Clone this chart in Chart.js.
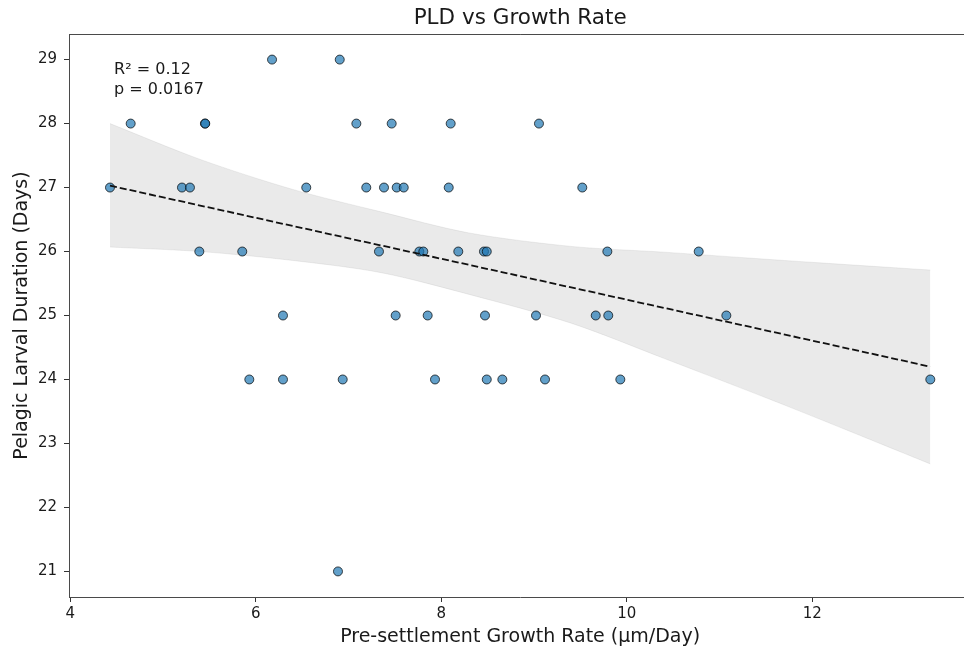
<!DOCTYPE html>
<html>
<head>
<meta charset="utf-8">
<script src="https://cdn.jsdelivr.net/npm/chart.js@4/dist/chart.umd.min.js"></script>
<style>
  html, body { margin: 0; padding: 0; background: #fff; overflow: hidden; }
  #wrap { width: 980px; height: 653px; }
</style>
</head>
<body>
<div id="wrap"><canvas id="c" width="980" height="653"></canvas></div>
<script>
// Pre-settlement growth rate (µm/day) and pelagic larval duration (days)
const growthRate = [
  6.175, 6.905,
  4.651, 5.452, 5.455, 7.084, 7.465, 8.101, 9.053,
  4.428, 5.204, 5.290, 6.544, 7.191, 7.382, 7.519, 7.595, 8.080, 9.520,
  5.391, 5.854, 7.328, 7.763, 7.806, 8.183, 8.460, 8.490, 9.790, 10.775,
  6.293, 7.508, 7.853, 8.471, 9.021, 9.665, 9.800, 11.073,
  5.930, 6.293, 6.937, 7.932, 8.490, 8.658, 9.118, 9.930, 13.272,
  6.886
];
const pldDays = [
  29, 29,
  28, 28, 28, 28, 28, 28, 28,
  27, 27, 27, 27, 27, 27, 27, 27, 27, 27,
  26, 26, 26, 26, 26, 26, 26, 26, 26, 26,
  25, 25, 25, 25, 25, 25, 25, 25,
  24, 24, 24, 24, 24, 24, 24, 24, 24,
  21
];

// Fitted trend line end points
const fitX = [4.428, 13.272];
const fitY = [27.03, 24.20];

// 95% confidence band of the fit
const bandX     = [4.428, 5.40, 6.40, 7.35, 8.30, 9.40, 10.40, 11.70, 13.272];
const bandUpper = [28.00, 27.44, 26.97, 26.62, 26.29, 26.08, 25.99, 25.86, 25.71];
const bandLower = [26.07, 26.00, 25.86, 25.67, 25.33, 24.88, 24.33, 23.60, 22.68];

// Axis ticks
const xTicks = [4, 6, 8, 10, 12];
const yTicks = [21, 22, 23, 24, 25, 26, 27, 28, 29];

const titleText = 'PLD vs Growth Rate';
const xLabel = 'Pre-settlement Growth Rate (µm/Day)';
const yLabel = 'Pelagic Larval Duration (Days)';
const statLines = ['R² = 0.12', 'p = 0.0167'];

const FONT = 'DejaVu Sans, sans-serif';

const toXY = (xs, ys) => xs.map((x, i) => ({ x: x, y: ys[i] }));

const decorations = {
  id: 'decorations',
  afterDraw(chart) {
    const { ctx, chartArea: a } = chart;
    ctx.save();
    // top spine
    ctx.strokeStyle = '#4a4a4a';
    ctx.lineWidth = 1;
    ctx.beginPath();
    ctx.moveTo(a.left, a.top + 0.5);
    ctx.lineTo(a.right, a.top + 0.5);
    ctx.stroke();

    ctx.fillStyle = '#1a1a1a';
    // title
    ctx.font = '21.5px ' + FONT;
    ctx.textAlign = 'center';
    ctx.textBaseline = 'middle';
    const cx = (a.left + a.right) / 2;
    ctx.fillText(titleText, cx, 18);
    // x label
    ctx.font = '19px ' + FONT;
    ctx.fillText(xLabel, cx, 637);
    // y label
    ctx.save();
    ctx.translate(22, (a.top + a.bottom) / 2);
    ctx.rotate(-Math.PI / 2);
    ctx.fillText(yLabel, 0, 0);
    ctx.restore();
    // statistics annotation
    ctx.font = '16px ' + FONT;
    ctx.textAlign = 'left';
    ctx.fillText(statLines[0], a.left + 0.05 * (a.right - a.left), 70);
    ctx.fillText(statLines[1], a.left + 0.05 * (a.right - a.left), 90);
    ctx.restore();
  }
};

new Chart(document.getElementById('c'), {
  type: 'scatter',
  data: {
    datasets: [
      {
        type: 'line',
        data: toXY(fitX, fitY),
        borderColor: '#111',
        borderWidth: 1.8,
        borderDash: [7, 3],
        pointRadius: 0,
        fill: false,
        order: 0
      },
      {
        type: 'scatter',
        data: toXY(growthRate, pldDays),
        backgroundColor: 'rgba(31,119,180,0.7)',
        borderColor: 'rgba(0,0,0,0.7)',
        borderWidth: 1,
        pointRadius: 4.5,
        order: 1
      },
      {
        type: 'line',
        data: toXY(bandX, bandUpper),
        borderColor: 'rgba(150,150,150,0.15)',
        borderWidth: 1,
        backgroundColor: 'rgba(150,150,150,0.2)',
        pointRadius: 0,
        tension: 0.3,
        fill: '+1',
        order: 2
      },
      {
        type: 'line',
        data: toXY(bandX, bandLower),
        borderColor: 'rgba(150,150,150,0.15)',
        borderWidth: 1,
        pointRadius: 0,
        tension: 0.3,
        fill: false,
        order: 3
      }
    ]
  },
  options: {
    responsive: false,
    animation: false,
    devicePixelRatio: 1,
    layout: { padding: { top: 34, right: 8.7, left: 0, bottom: 0 } },
    plugins: {
      legend: { display: false },
      tooltip: { enabled: false },
      title: { display: false }
    },
    scales: {
      x: {
        type: 'linear',
        min: 3.986,
        max: 13.714,
        afterFit(s) { s.height = 56; },
        afterBuildTicks(s) { s.ticks = xTicks.map(v => ({ value: v })); },
        grid: { drawOnChartArea: false, drawTicks: true, tickLength: 5, color: '#333' },
        border: { display: true, color: '#4a4a4a', width: 1 },
        ticks: { font: { family: FONT, size: 15 }, color: '#1a1a1a', padding: 3, maxRotation: 0, autoSkip: false }
      },
      y: {
        type: 'linear',
        min: 20.6,
        max: 29.4,
        afterFit(s) { s.width = 69; },
        afterBuildTicks(s) { s.ticks = yTicks.map(v => ({ value: v })); },
        grid: { drawOnChartArea: false, drawTicks: true, tickLength: 5, color: '#333' },
        border: { display: true, color: '#4a4a4a', width: 1 },
        ticks: { font: { family: FONT, size: 15 }, color: '#1a1a1a', padding: 7, autoSkip: false }
      }
    }
  },
  plugins: [decorations]
});
</script>
</body>
</html>
